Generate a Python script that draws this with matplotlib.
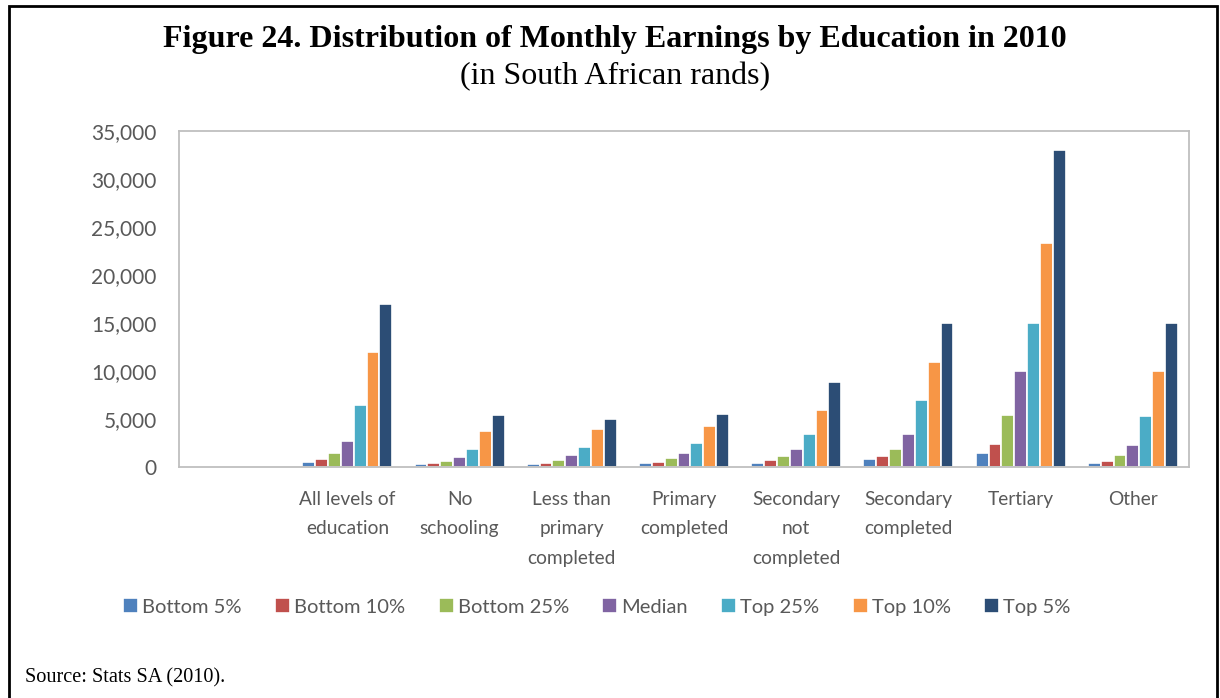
import matplotlib.pyplot as plt
from matplotlib.patches import Rectangle
import numpy as np

# categories (first one is an empty slot as in the source chart)
categories = ['', 'All levels of\neducation', 'No\nschooling', 'Less than\nprimary\ncompleted',
              'Primary\ncompleted', 'Secondary\nnot\ncompleted', 'Secondary\ncompleted',
              'Tertiary', 'Other']
series_names = ['Bottom 5%', 'Bottom 10%', 'Bottom 25%', 'Median', 'Top 25%', 'Top 10%', 'Top 5%']

bottom5  = [0, 500, 320, 320, 380, 450, 830, 1420, 450]
bottom10 = [0, 780, 380, 380, 550, 690, 1110, 2430, 660]
bottom25 = [0, 1420, 620, 730, 940, 1110, 1910, 5450, 1210]
median   = [0, 2750, 1040, 1210, 1420, 1910, 3470, 9950, 2320]
top25    = [0, 6450, 1870, 2080, 2530, 3430, 6950, 15000, 5340]
top10    = [0, 12000, 3750, 3950, 4300, 5970, 10970, 23300, 9950]
top5     = [0, 16970, 5450, 4950, 5520, 8880, 15000, 33000, 15000]

colors = ['#4F81BD', '#C0504D', '#9BBB59', '#8064A2', '#4BACC6', '#F79646', '#2C4D75']
grey = '#595959'
ui_font = ['Lato', 'DejaVu Sans']

values = [bottom5, bottom10, bottom25, median, top25, top10, top5]

fig = plt.figure(figsize=(12.2, 6.98), dpi=100)
ax = fig.add_axes([0.1467, 0.331, 0.8279, 0.4813])

x = np.arange(len(categories))
w = 0.1146
for i, (name, vals) in enumerate(zip(series_names, values)):
    ax.bar(x + (i - 3) * w, vals, width=w, color=colors[i], edgecolor='white',
           linewidth=1.2, label=name)

ax.set_xlim(-0.5, len(categories) - 0.5)
ax.set_ylim(0, 35000)
ax.set_yticks(np.arange(0, 35001, 5000))
ax.set_yticklabels([f'{v:,}' for v in range(0, 35001, 5000)])
ax.set_xticks(x)
ax.set_xticklabels(categories, linespacing=1.9)
ax.tick_params(length=0, labelcolor=grey)
ax.tick_params(axis='y', labelsize=15, pad=16)
ax.tick_params(axis='x', labelsize=13.8, pad=17)
for lab in ax.get_xticklabels() + ax.get_yticklabels():
    lab.set_family(ui_font)
for s in ax.spines.values():
    s.set_color('#BFBFBF')
    s.set_linewidth(1.3)

fig.text(615 / 1220, 1 - 40 / 698, 'Figure 24. Distribution of Monthly Earnings by Education in 2010',
         ha='center', va='center', fontsize=23, fontweight='bold', family='Liberation Serif')
fig.text(615 / 1220, 1 - 77 / 698, '(in South African rands)', ha='center', va='center',
         fontsize=23, family='Liberation Serif')
fig.text(25 / 1220, 1 - 678 / 698, 'Source: Stats SA (2010).', ha='left', va='center',
         fontsize=14.6, family='Liberation Serif')

leg = fig.legend(loc='center', bbox_to_anchor=(597 / 1220, 1 - 607 / 698), ncol=7,
                 frameon=False, handlelength=0.75, handleheight=0.75, handletextpad=0.2,
                 columnspacing=1.65, prop={'family': ui_font, 'size': 14.5})
for t in leg.get_texts():
    t.set_color(grey)

# outer frame (open at the bottom, cut off in the source)
fig.patches.append(Rectangle((9 / 1220, -0.05), 1208 / 1220, 1.05 - 6 / 698,
                             transform=fig.transFigure, fill=False, edgecolor='black',
                             linewidth=2))

fig.savefig('out.png', dpi=100)
